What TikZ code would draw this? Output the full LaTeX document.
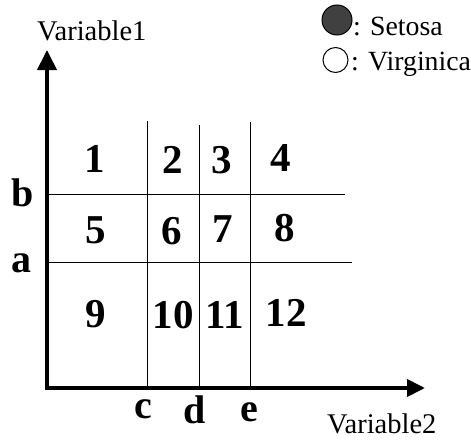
\documentclass[tikz,border=0pt]{standalone}
\usepackage{fontspec}
\setmainfont{Liberation Serif}
\usetikzlibrary{arrows.meta}
\tikzset{
  axis/.style={line width=4pt, line join=miter},
  grid/.style={line width=1pt},
  num/.style={inner sep=0pt, anchor=center, font=\fontsize{41}{46}\selectfont\bfseries},
  lett/.style={inner sep=0pt, anchor=base, font=\fontsize{40}{45}\selectfont\bfseries},
  lbl/.style={inner sep=0pt, anchor=base west, font=\fontsize{28.5}{33}\selectfont},
  leg/.style={inner sep=0pt, anchor=base west, font=\fontsize{27.8}{32}\selectfont},
}
\begin{document}
\begin{tikzpicture}[x=1pt,y=-1pt]
\useasboundingbox (0,0) rectangle (471,439);
% axes
\coordinate (O) at (47,388);
\coordinate (ytop) at (47,50);
\coordinate (xend) at (425,388);
\draw[axis, {Triangle[length=20pt,width=19pt]}-{Triangle[length=18pt,width=17pt]}] (ytop) -- (O) -- (xend);
% grid
\coordinate (c1) at (147,121); \coordinate (c1b) at (147,388);
\coordinate (d1) at (199,125); \coordinate (d1b) at (199,388);
\coordinate (e1) at (250,122); \coordinate (e1b) at (250,388);
\coordinate (b1) at (48,194); \coordinate (b2) at (345,194);
\coordinate (a1) at (48,262); \coordinate (a2) at (352,262);
\draw[grid] (c1) -- (c1b);
\draw[grid] (d1) -- (d1b);
\draw[grid] (e1) -- (e1b);
\draw[grid] (b1) -- (b2);
\draw[grid] (a1) -- (a2);
% cell numbers
\node[num] (n1) at (95,159) {1};
\node[num] (n2) at (173,160) {2};
\node[num] (n3) at (222,160) {3};
\node[num] (n4) at (281,158) {4};
\node[num] (n5) at (96,230) {5};
\node[num] (n6) at (172,231) {6};
\node[num] (n7) at (223,229) {7};
\node[num] (n8) at (285,228) {8};
\node[num] (n9) at (96,314) {9};
\node[num] (n10) at (173,315) {10};
\node[num] (n11) at (225,315) {11};
\node[num] (n12) at (286,313) {12};
% threshold letters
\node[lett] (lb) at (23,206) {b};
\node[lett] (la) at (22,272) {a};
\node[lett] (lc) at (143,418) {c};
\node[lett] (ld) at (195,423) {d};
\node[lett] (le) at (249,421) {e};
% axis labels
\node[lbl] (v1) at (37,40) {Variable1};
\node[lbl] (v2) at (327,433) {Variable2};
% legend
\node[circle, draw=black, line width=1pt, fill=black!75, minimum size=30pt, inner sep=0pt] (cs) at (337,20) {};
\node[circle, draw=black, line width=1pt, fill=white, minimum size=25pt, inner sep=0pt] (cv) at (335.5,60) {};
\node[leg] (ts) at (353,35) {: Setosa};
\node[leg] (tv) at (351,70) {: Virginica};
\end{tikzpicture}
\end{document}
